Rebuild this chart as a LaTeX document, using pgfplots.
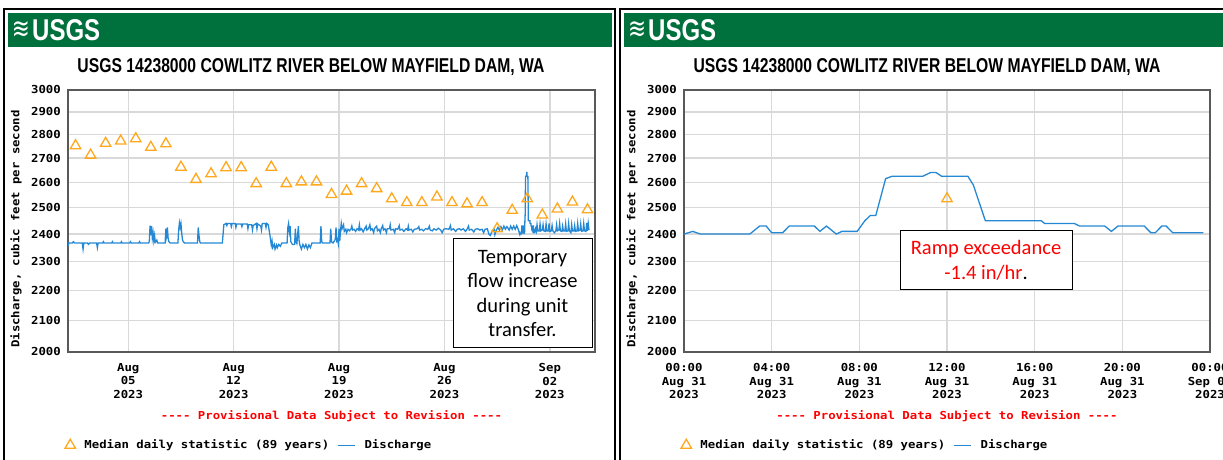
\documentclass[border=0pt]{standalone}
\usepackage{graphicx}
\usepackage{pgfplots}
\pgfplotsset{compat=1.18}
\usepackage{fontspec}
\setmainfont{Liberation Sans}
\newfontfamily\usgs{DejaVu Sans Mono}[FakeStretch=1.12]
\newfontfamily\calib{Carlito}
\newfontfamily\dejavu{DejaVu Sans}
\definecolor{usgsgreen}{RGB}{0,112,60}
\definecolor{medorange}{RGB}{255,168,30}
\definecolor{qblue}{RGB}{36,136,212}
\newcommand{\ufont}{\usgs\bfseries\fontsize{11}{13.7}\selectfont}

\pgfplotstableread{
d v
0.5 2752
1.5 2712
2.5 2762
3.5 2772
4.5 2782
5.5 2745
6.5 2760
7.5 2662
8.5 2612
9.5 2635
10.5 2660
11.5 2660
12.5 2595
13.5 2662
14.5 2595
15.5 2602
16.5 2602
17.5 2552
18.5 2565
19.5 2595
20.5 2575
21.5 2535
22.5 2520
23.5 2520
24.5 2542
25.5 2520
26.5 2515
27.5 2520
28.5 2420
29.5 2490
30.5 2535
31.5 2472
32.5 2495
33.5 2522
34.5 2492
}\mediantable

\begin{document}
\begin{tikzpicture}
\path[use as bounding box] (0pt,0pt) rectangle (1223pt,460pt);
\clip (0pt,0pt) rectangle (1223pt,460pt);

% panel frames
\draw[line width=1.3pt, black] (4pt,-10pt) -- (4pt,451pt) -- (615pt,451pt) -- (615pt,-10pt);
\draw[line width=1.3pt, black] (620pt,-10pt) -- (620pt,451pt) -- (1240pt,451pt);

% banners
\fill[usgsgreen] (8pt,413pt) rectangle (612pt,447pt);
\fill[usgsgreen] (624pt,413pt) rectangle (1240pt,447pt);
\node[text=white, inner sep=0pt] at (21pt,430pt) {\resizebox{18pt}{17pt}{\dejavu ≋}};
\node[text=white, inner sep=0pt, anchor=base west] at (32pt,419pt) {\resizebox{68pt}{21pt}{\bfseries USGS}};
\node[text=white, inner sep=0pt] at (637pt,430pt) {\resizebox{18pt}{17pt}{\dejavu ≋}};
\node[text=white, inner sep=0pt, anchor=base west] at (648pt,419pt) {\resizebox{68pt}{21pt}{\bfseries USGS}};

% titles
\node[anchor=base, inner sep=0pt] at (311pt,387pt) {\resizebox{467pt}{14pt}{\bfseries USGS 14238000 COWLITZ RIVER BELOW MAYFIELD DAM, WA}};
\node[anchor=base, inner sep=0pt] at (927pt,387pt) {\resizebox{467pt}{14pt}{\bfseries USGS 14238000 COWLITZ RIVER BELOW MAYFIELD DAM, WA}};

% y labels
\node[rotate=90, inner sep=0pt, font=\ufont] at (16pt,231pt) {Discharge, cubic feet per second};
\node[rotate=90, inner sep=0pt, font=\ufont] at (632pt,231pt) {Discharge, cubic feet per second};

% provisional notes
\node[text=red, inner sep=0pt, font=\ufont] at (331.5pt,43.5pt) {---{}- Provisional Data Subject to Revision ---{}-};
\node[text=red, inner sep=0pt, font=\ufont] at (947pt,43.5pt) {---{}- Provisional Data Subject to Revision ---{}-};

% ---------------- left chart ----------------
\begin{axis}[
  ymode=log, ymin=2000, ymax=3000,
  scale only axis, width=527pt, height=262pt, anchor=south west, at={(68pt,108pt)},
  xmin=0, xmax=35,
  xtick={4,11,18,25,32},
  xticklabels={{Aug\\05\\2023},{Aug\\12\\2023},{Aug\\19\\2023},{Aug\\26\\2023},{Sep\\02\\2023}},
  ytick={2000,2100,2200,2300,2400,2500,2600,2700,2800,2900,3000},
  yticklabels={2000,2100,2200,2300,2400,2500,2600,2700,2800,2900,3000},
  minor ytick={},
  grid=major, grid style={line width=1.4pt, color=black!15},
  axis line style={line width=1.5pt, color=black!65},
  major tick length=0pt, minor tick length=0pt,
  tick label style={font=\ufont, inner sep=0pt},
  yticklabel style={xshift=-7pt},
  xticklabel style={align=center, yshift=-11pt},
  legend columns=2,
  legend cell align=left,
  legend style={draw=none, fill=none, font=\ufont, at={(-0.006,-0.356)}, anchor=west, inner sep=0pt,
    /tikz/every odd column/.append style={column sep=7pt},
    /tikz/every even column/.append style={column sep=6pt}},
]
\addplot[only marks, mark=triangle, mark size=6pt, color=medorange, mark options={line width=1.3pt}] table[x=d,y=v] {\mediantable};
\addlegendentry{Median daily statistic (89 years)}
\addplot[qblue, line width=1.3pt] coordinates {
(0,2355) (0.05,2367) (0.3,2367) (0.35,2372) (0.45,2367) (0.95,2367) (1.0,2345) (1.05,2367) (1.3,2367) (1.35,2362) (1.45,2367) (1.9,2367) (1.95,2350) (2.0,2367) (2.3,2367) (2.35,2372) (2.4,2367) (2.9,2367) (2.95,2372) (3.0,2367) (3.5,2367) (3.55,2372) (3.6,2367) (4.1,2367) (4.15,2372) (4.2,2367) (4.7,2367) (4.75,2372) (4.8,2367) (5.35,2367)
(5.4,2372) (5.45,2432) (5.5,2395) (5.55,2430) (5.6,2385) (5.65,2405) (5.7,2375) (5.75,2395) (5.8,2370) (5.9,2378) (5.95,2367) (6.45,2367) (6.5,2420) (6.55,2395) (6.6,2425) (6.65,2385) (6.7,2372) (6.8,2367) (7.3,2367) (7.35,2415) (7.4,2442) (7.45,2425) (7.5,2440) (7.55,2405) (7.6,2380) (7.65,2372) (7.75,2367) (8.6,2367) (8.65,2425) (8.7,2395) (8.75,2372) (8.8,2367) (10.25,2367)
(10.3,2400) (10.35,2435) (10.5,2440) (10.55,2432) (10.6,2440) (10.8,2440) (10.85,2428) (10.9,2440) (11.1,2440) (11.15,2425) (11.2,2438) (11.5,2438) (11.55,2428) (11.6,2438) (11.9,2438) (11.95,2420) (12.0,2435) (12.2,2435) (12.25,2415) (12.3,2432) (12.5,2440) (12.55,2420) (12.6,2438) (12.8,2430) (12.85,2415) (12.9,2440) (13.1,2440) (13.15,2425) (13.2,2440) (13.3,2435)
(13.4,2400) (13.5,2360) (13.55,2375) (13.6,2350) (13.7,2362) (13.75,2345) (13.85,2360) (13.9,2350) (14.0,2362) (14.1,2355) (14.2,2367) (14.55,2367) (14.6,2425) (14.65,2440) (14.7,2410) (14.75,2430) (14.8,2372) (14.9,2362) (15.05,2362) (15.1,2420) (15.15,2370) (15.2,2365) (15.3,2430) (15.35,2375) (15.4,2360) (15.5,2345) (15.6,2362) (15.7,2350) (15.8,2362) (15.9,2345) (16.0,2360) (16.1,2350) (16.2,2367) (16.75,2367) (16.8,2430) (16.85,2372) (16.9,2367) (17.4,2367) (17.45,2420) (17.5,2372) (17.6,2367) (17.75,2380) (17.8,2425) (17.85,2375) (17.9,2380) (17.95,2365) (18.0,2420) (18.05,2375)
(18.1,2415) (18.15,2440) (18.2,2420) (18.3,2435) (18.35,2410) (18.45,2418) (18.5,2405) (18.6,2418) (18.7,2412) (18.8,2420) (18.85,2430) (18.9,2415) (19.0,2418) (19.1,2410) (19.2,2420) (19.3,2415) (19.35,2435) (19.4,2415) (19.5,2420) (19.6,2408) (19.7,2420) (19.8,2430) (19.85,2415) (19.95,2420) (20.05,2435) (20.1,2415) (20.2,2420) (20.3,2405) (20.35,2420) (20.5,2430) (20.55,2412) (20.65,2418) (20.75,2405) (20.8,2420) (20.9,2432) (20.95,2415) (21.05,2420) (21.15,2405) (21.2,2420) (21.35,2420) (21.4,2435) (21.45,2415) (21.6,2418) (21.7,2405) (21.75,2420) (21.9,2418) (22.0,2432) (22.05,2415) (22.2,2418) (22.3,2410) (22.45,2420) (22.55,2415) (22.6,2430) (22.65,2415) (22.8,2418) (22.9,2408) (23.0,2418) (23.2,2420) (23.3,2428) (23.35,2415) (23.5,2418) (23.6,2412) (23.75,2420) (23.9,2418) (24.0,2430) (24.05,2415) (24.2,2412) (24.3,2420) (24.45,2415) (24.6,2422) (24.75,2415) (24.85,2405) (24.95,2418) (25.1,2420) (25.3,2418) (25.4,2432) (25.45,2415) (25.6,2420) (25.75,2410) (25.85,2418) (26.0,2420) (26.1,2415) (26.25,2420) (26.4,2410) (26.5,2418) (26.6,2430) (26.65,2415) (26.8,2418) (26.95,2408) (27.05,2418) (27.2,2420) (27.35,2415) (27.5,2418) (27.6,2405) (27.7,2418) (27.85,2420) (27.95,2400) (28.05,2395) (28.15,2410) (28.3,2420) (28.35,2398) (28.45,2415) (28.55,2425) (28.65,2415) (28.75,2428) (28.85,2415) (28.95,2430) (29.05,2418) (29.15,2428) (29.3,2415) (29.4,2430) (29.5,2418) (29.6,2430) (29.7,2418) (29.8,2432) (29.9,2418)
(30.0,2400) (30.017,2410) (30.031,2400) (30.125,2400) (30.144,2430) (30.156,2430) (30.167,2405) (30.1875,2405) (30.2,2430) (30.248,2430) (30.258,2410) (30.271,2430) (30.29,2400) (30.3,2410) (30.329,2410) (30.344,2450) (30.354,2470) (30.365,2470) (30.383,2615) (30.396,2625) (30.454,2625) (30.469,2640) (30.479,2640) (30.49,2625) (30.54,2625) (30.55,2590) (30.573,2450) (30.679,2450) (30.685,2440) (30.742,2440) (30.752,2430) (30.8,2430) (30.8125,2410) (30.825,2430) (30.875,2430) (30.8875,2405) (30.908,2430) (30.917,2430) (30.929,2405) (30.9875,2405)
(31.05,2420) (31.1,2410) (31.15,2435) (31.2,2412) (31.3,2412) (31.35,2438) (31.4,2412) (31.5,2415) (31.55,2435) (31.6,2412) (31.7,2410) (31.75,2438) (31.8,2412) (31.9,2412) (31.95,2440) (32.0,2410) (32.1,2412) (32.15,2432) (32.2,2412) (32.3,2405) (32.4,2412) (32.45,2435) (32.5,2412) (32.6,2415) (32.65,2440) (32.7,2412) (32.8,2410) (32.85,2430) (32.9,2412) (33.0,2412) (33.05,2438) (33.1,2410) (33.2,2412) (33.25,2440) (33.3,2412) (33.4,2405) (33.45,2435) (33.5,2412) (33.6,2412) (33.65,2432) (33.7,2410) (33.8,2412) (33.85,2440) (33.9,2412) (34.0,2415) (34.05,2438) (34.1,2410) (34.2,2412) (34.25,2440) (34.3,2412) (34.4,2410) (34.45,2442) (34.5,2412) (34.55,2440) (34.6,2415)
};
\addlegendentry{Discharge}
\end{axis}

% ---------------- right chart ----------------
\begin{axis}[
  ymode=log, ymin=2000, ymax=3000,
  scale only axis, width=526pt, height=262pt, anchor=south west, at={(684pt,108pt)},
  xmin=0, xmax=24,
  xtick={0,4,8,12,16,20,24},
  xticklabels={{00:00\\Aug 31\\2023},{04:00\\Aug 31\\2023},{08:00\\Aug 31\\2023},{12:00\\Aug 31\\2023},{16:00\\Aug 31\\2023},{20:00\\Aug 31\\2023},{00:00\\Sep 01\\2023}},
  ytick={2000,2100,2200,2300,2400,2500,2600,2700,2800,2900,3000},
  yticklabels={2000,2100,2200,2300,2400,2500,2600,2700,2800,2900,3000},
  minor ytick={},
  grid=major, grid style={line width=1.4pt, color=black!15},
  axis line style={line width=1.5pt, color=black!65},
  major tick length=0pt, minor tick length=0pt,
  tick label style={font=\ufont, inner sep=0pt},
  yticklabel style={xshift=-7pt},
  xticklabel style={align=center, yshift=-11pt},
  legend columns=2,
  legend cell align=left,
  legend style={draw=none, fill=none, font=\ufont, at={(-0.006,-0.356)}, anchor=west, inner sep=0pt,
    /tikz/every odd column/.append style={column sep=7pt},
    /tikz/every even column/.append style={column sep=6pt}},
]
\addplot[only marks, mark=triangle, mark size=6pt, color=medorange, mark options={line width=1.3pt}] coordinates {(12,2535)};
\addlegendentry{Median daily statistic (89 years)}
\addplot[qblue, line width=1.3pt] coordinates {
(0,2400) (0.4,2410) (0.75,2400) (3.0,2400) (3.45,2430) (3.75,2430) (4.0,2405) (4.5,2405) (4.8,2430) (5.95,2430) (6.2,2410) (6.5,2430) (6.95,2400) (7.2,2410) (7.9,2410) (8.25,2450) (8.5,2470) (8.75,2470) (9.2,2615) (9.5,2625) (10.9,2625) (11.25,2640) (11.5,2640) (11.75,2625) (12.95,2625) (13.2,2590) (13.75,2450) (16.3,2450) (16.45,2440) (17.8,2440) (18.05,2430) (19.2,2430) (19.5,2410) (19.8,2430) (21.0,2430) (21.3,2405) (21.5,2405) (21.8,2430) (22.0,2430) (22.3,2405) (23.7,2405)
};
\addlegendentry{Discharge}
\end{axis}

% annotations
\node[draw=black, line width=1pt, fill=white, minimum width=139pt, minimum height=109pt, inner sep=0pt, align=center,
  font=\calib\fontsize{20.5}{24.3}\selectfont] at (522.5pt,166.5pt) {Temporary\\flow increase\\during unit\\transfer.};
\node[draw=black, line width=1pt, fill=white, minimum width=172pt, minimum height=59pt, inner sep=0pt, align=center,
  font=\calib\fontsize{20.5}{24.5}\selectfont] at (986pt,199.5pt) {\textcolor{red}{Ramp exceedance}\\\textcolor{red}{-1.4 in/hr}.};
\end{tikzpicture}
\end{document}
